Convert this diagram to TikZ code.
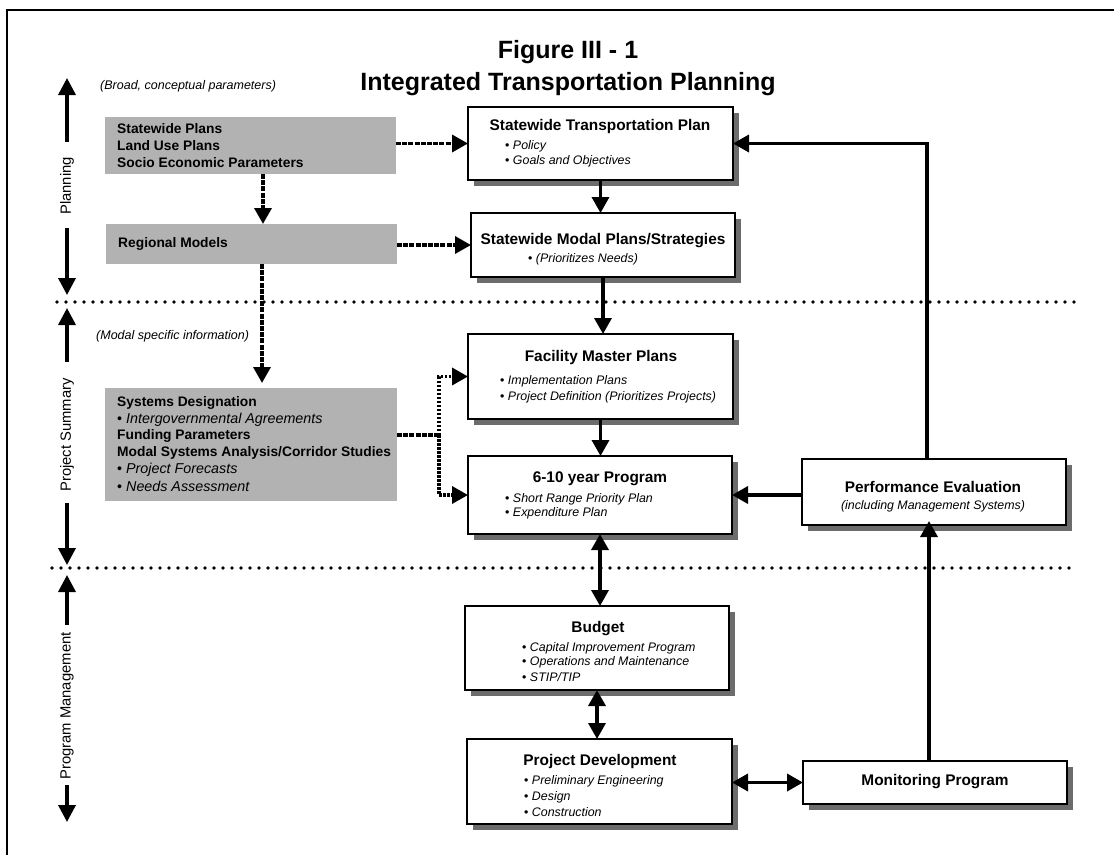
\documentclass[tikz,border=0pt]{standalone}
\usepackage{fontspec}
\setmainfont{Liberation Sans}
\usetikzlibrary{arrows.meta,shadows}
\definecolor{boxgray}{RGB}{178,178,178}
\definecolor{shadowgray}{RGB}{108,108,108}
\tikzset{
  wbox/.style={draw=black, line width=1.5pt, fill=white, anchor=north west, inner sep=0pt, outer sep=0pt,
    drop shadow={shadow xshift=6pt, shadow yshift=-6pt, fill=shadowgray, opacity=1, draw=none}},
  gbox/.style={fill=boxgray, draw=none, anchor=north west, inner sep=0pt, outer sep=0pt},
  btitle/.style={font=\fontsize{15.4}{18}\selectfont\bfseries, inner sep=0pt},
  bitem/.style={font=\fontsize{12.4}{15}\selectfont, anchor=west, inner sep=0pt},
  bsub/.style={font=\fontsize{12.4}{15}\selectfont\itshape, inner sep=0pt},
  gtext/.style={font=\fontsize{13.8}{16}\selectfont\bfseries, anchor=west, inner sep=0pt},
  gitem/.style={font=\fontsize{14.3}{16}\selectfont, anchor=west, inner sep=0pt},
  note/.style={font=\fontsize{12.5}{15}\selectfont\itshape, anchor=west, inner sep=0pt},
  figtitle/.style={font=\fontsize{25}{28}\selectfont\bfseries, inner sep=0pt, anchor=base},
  axislabel/.style={font=\fontsize{14.8}{17}\selectfont, rotate=90, inner sep=0pt},
  conn/.style={line width=3.5pt, -{Triangle[length=16pt,width=17pt]}},
  dconn/.style={line width=3.5pt, {Triangle[length=16pt,width=17pt]}-{Triangle[length=16pt,width=17pt]}},
  dashconn/.style={line width=3.5pt, dash pattern=on 5pt off 1.2pt},
  dasharrow/.style={dashconn, -{Triangle[length=16pt,width=17pt]}},
  dotarrow/.style={line width=3.5pt, dash pattern=on 2.5pt off 1.5pt, -{Triangle[length=16pt,width=17pt]}},
  sepline/.style={line width=3.6pt, line cap=round, dash pattern=on 0pt off 9pt},
  axis/.style={line width=3.5pt, -{Triangle[length=17pt,width=17pt]}},
}
\begin{document}
\begin{tikzpicture}[x=1pt,y=-1pt]
\useasboundingbox (0,0) rectangle (1114,855);
% frame
\draw[line width=2pt] (7,855) -- (7,10) -- (1114,10);
% separators
\draw[sepline] (57,302) -- (1080,302);
\draw[sepline] (52,568) -- (1072,568);

% titles
\node[figtitle] (fig1) at (568,58) {Figure III - 1};
\node[figtitle] (fig2) at (568,90) {Integrated Transportation Planning};
\node[note] (broad) at (100,86) {(Broad, conceptual parameters)};
\node[note] (modal) at (96,336) {(Modal specific information)};

% left axis
\node[axislabel] (lplan) at (67,186) {Planning};
\coordinate (pA) at (67,142); \coordinate (pAt) at (67,78);
\coordinate (pB) at (67,228); \coordinate (pBt) at (67,295);
\draw[axis] (pA) -- (pAt);
\draw[axis] (pB) -- (pBt);
\node[axislabel] (lsum) at (67,435) {Project Summary};
\coordinate (sA) at (67,362); \coordinate (sAt) at (67,308);
\coordinate (sB) at (67,503); \coordinate (sBt) at (67,565);
\draw[axis] (sA) -- (sAt);
\draw[axis] (sB) -- (sBt);
\node[axislabel] (lman) at (67,706) {Program Management};
\coordinate (mA) at (67,625); \coordinate (mAt) at (67,575);
\coordinate (mB) at (67,785); \coordinate (mBt) at (67,822);
\draw[axis] (mA) -- (mAt);
\draw[axis] (mB) -- (mBt);

% gray boxes
\node[gbox, minimum width=291pt, minimum height=57pt] (g1) at (105,117) {};
\node[gtext] (g1a) at (117,129) {Statewide Plans};
\node[gtext] (g1b) at (117,146) {Land Use Plans};
\node[gtext] (g1c) at (117,163) {Socio Economic Parameters};
\node[gbox, minimum width=291pt, minimum height=40pt] (g2) at (106,224) {};
\node[gtext] (g2a) at (118,244) {Regional Models};
\node[gbox, minimum width=292pt, minimum height=113pt] (g3) at (105,388) {};
\node[gtext] (g3a) at (117,403) {Systems Designation};
\node[gitem] (g3b) at (117,420) {• \textit{Intergovernmental Agreements}};
\node[gtext] (g3c) at (117,436) {Funding Parameters};
\node[gtext] (g3d) at (117,453) {Modal Systems Analysis/Corridor Studies};
\node[gitem] (g3e) at (117,470) {• \textit{Project Forecasts}};
\node[gitem] (g3f) at (117,486) {• \textit{Needs Assessment}};

% white boxes
\node[wbox, minimum width=265pt, minimum height=73pt] (stp) at (468,107) {};
\node[btitle] (stpt) at (600,127) {Statewide Transportation Plan};
\node[bitem] (stp1) at (505,146) {• \textit{Policy}};
\node[bitem] (stp2) at (505,161) {• \textit{Goals and Objectives}};

\node[wbox, minimum width=264pt, minimum height=64pt] (smp) at (471,213) {};
\node[btitle] (smpt) at (603,241) {Statewide Modal Plans/Strategies};
\node[bitem] (smp1) at (528,259) {• \textit{(Prioritizes Needs)}};

\node[wbox, minimum width=265pt, minimum height=85pt] (fmp) at (468,334) {};
\node[btitle] (fmpt) at (601,358) {Facility Master Plans};
\node[bitem] (fmp1) at (500,381) {• \textit{Implementation Plans}};
\node[bitem] (fmp2) at (500,397) {• \textit{Project Definition (Prioritizes Projects)}};

\node[wbox, minimum width=264pt, minimum height=78pt] (prog) at (468,456) {};
\node[btitle] (progt) at (600,479) {6-10 year Program};
\node[bitem] (prog1) at (505,499) {• \textit{Short Range Priority Plan}};
\node[bitem] (prog2) at (505,513) {• \textit{Expenditure Plan}};

\node[wbox, minimum width=264pt, minimum height=84pt] (budget) at (465,606) {};
\node[btitle] (budgett) at (598,629) {Budget};
\node[bitem] (budget1) at (522,648) {• \textit{Capital Improvement Program}};
\node[bitem] (budget2) at (522,662) {• \textit{Operations and Maintenance}};
\node[bitem] (budget3) at (522,677) {• \textit{STIP/TIP}};

\node[wbox, minimum width=265pt, minimum height=85pt] (pd) at (467,739) {};
\node[btitle] (pdt) at (600,762) {Project Development};
\node[bitem] (pd1) at (524,781) {• \textit{Preliminary Engineering}};
\node[bitem] (pd2) at (524,797) {• \textit{Design}};
\node[bitem] (pd3) at (524,812) {• \textit{Construction}};

\node[wbox, minimum width=264pt, minimum height=66pt] (pe) at (802,459) {};
\node[btitle] (pet) at (933,487) {Performance Evaluation};
\node[bsub] (pes) at (933,506) {(including Management Systems)};

\node[wbox, minimum width=264pt, minimum height=43pt] (mon) at (803,761) {};
\node[btitle] (mont) at (935,782) {Monitoring Program};

% dashed connectors from the grey boxes
\draw[dasharrow] (g1.east |- stp.west) -- (stp.west);
\draw[dasharrow] (g2.east |- smp.west) -- (smp.west);
\draw[dasharrow] ([xshift=12.5pt]g1.south) -- ([xshift=11.5pt]g2.north);
\draw[dasharrow, shorten >=5pt] ([xshift=10.5pt]g2.south) -- ([xshift=11pt]g3.north);
\coordinate (j) at (439,435);
\draw[dashconn] (g3.east |- j) -- (j);
\draw[dotarrow] (j) |- (fmp.west);
\draw[dotarrow] (j) |- (prog.west);

% main column
\draw[conn] (stp.south) -- (stp.south |- smp.north);
\draw[conn] (smp.south) -- (smp.south |- fmp.north);
\draw[conn] (fmp.south) -- (fmp.south |- prog.north);
\draw[dconn] (prog.south) -- (prog.south |- budget.north);
\draw[dconn] (budget.south) -- (budget.south |- pd.north);
\draw[dconn] (pd.east |- mon.west) -- (mon.west);

% feedback loop
\draw[conn, shorten >=-4pt] ([xshift=-6pt]mon.north) -- ([xshift=-6pt]mon.north |- pe.south);
\draw[conn] (pe.west |- prog.east) -- (prog.east);
\draw[conn] ([xshift=-7pt]pe.north) |- (stp.east);
\end{tikzpicture}
\end{document}
